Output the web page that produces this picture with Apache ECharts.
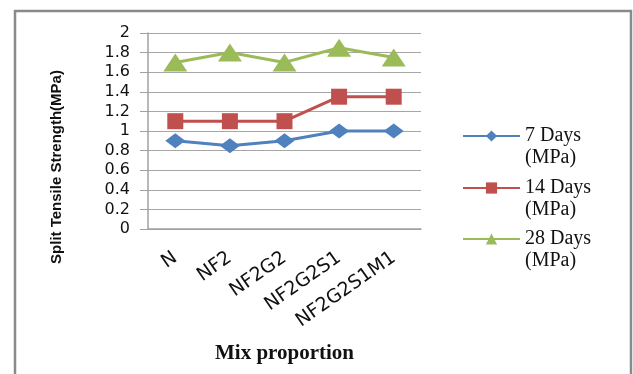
<!DOCTYPE html>
<html>
<head>
<meta charset="utf-8">
<script src="https://cdn.jsdelivr.net/npm/echarts@6/dist/echarts.min.js"></script>
<style>html,body{margin:0;padding:0;background:#fff;}#c{width:633px;height:374px;}</style>
</head>
<body>
<div id="c"></div>
<script>
var categories = ['N', 'NF2', 'NF2G2', 'NF2G2S1', 'NF2G2S1M1'];
var days7 = [0.9, 0.85, 0.9, 1.0, 1.0];
var days14 = [1.1, 1.1, 1.1, 1.35, 1.35];
var days28 = [1.7, 1.8, 1.7, 1.85, 1.75];
var seriesNames = ['7 Days (MPa)', '14 Days (MPa)', '28 Days (MPa)'];
var yTicks = { min: 0, max: 2, interval: 0.2 };

var chart = echarts.init(document.getElementById('c'), null, { renderer: 'canvas' });

function legendFor(name, top) {
  return {
    data: [name],
    left: 462,
    top: top,
    orient: 'vertical',
    padding: 0,
    itemWidth: 57,
    itemHeight: 14,
    itemGap: 0,
    selectedMode: false,
    formatter: function (n) { return ' \n' + n.replace(' (', '\n('); },
    textStyle: {
      fontFamily: 'Liberation Serif',
      fontSize: 20,
      color: '#111',
      lineHeight: 22
    }
  };
}

chart.setOption({
  backgroundColor: '#fff',
  animation: false,
  graphic: [{
    type: 'rect',
    shape: { x: 15, y: 11, width: 616, height: 400 },
    style: { fill: 'none', stroke: '#8a8a8a', lineWidth: 2.5 },
    silent: true
  }],
  grid: { left: 148, top: 33, width: 273, height: 196 },
  legend: [
    legendFor(seriesNames[0], 103),
    legendFor(seriesNames[1], 155),
    legendFor(seriesNames[2], 206)
  ],
  xAxis: {
    type: 'category',
    data: categories,
    boundaryGap: true,
    name: 'Mix proportion',
    nameLocation: 'middle',
    nameGap: 114,
    nameTextStyle: { fontFamily: 'Liberation Serif', fontWeight: 'bold', fontSize: 21, color: '#111' },
    axisLine: { lineStyle: { color: '#a0a0a0', width: 1.5 } },
    axisTick: { show: false },
    axisLabel: {
      rotate: 35,
      margin: 27,
      fontFamily: 'DejaVu Sans',
      fontSize: 19,
      color: '#111'
    }
  },
  yAxis: {
    type: 'value',
    min: yTicks.min,
    max: yTicks.max,
    interval: yTicks.interval,
    name: 'Split Tensile Strength(MPa)',
    nameLocation: 'middle',
    nameGap: 84,
    nameTextStyle: {
      fontFamily: 'Liberation Sans',
      fontWeight: 'bold',
      fontSize: 15,
      color: '#111',
      padding: [0, 72, 0, 0]
    },
    axisLine: { show: true, lineStyle: { color: '#a0a0a0', width: 1.5 } },
    axisTick: { show: true, inside: false, length: 8, lineStyle: { color: '#a0a0a0' } },
    splitLine: { lineStyle: { color: '#a6a6a6', width: 1 } },
    axisLabel: {
      margin: 18,
      fontFamily: 'DejaVu Sans',
      fontSize: 16,
      color: '#111'
    }
  },
  series: [
    {
      name: seriesNames[0], type: 'line', data: days7,
      symbol: 'diamond', symbolSize: [20, 15],
      lineStyle: { width: 3, color: '#4F81BD' },
      itemStyle: { color: '#4F81BD' }
    },
    {
      name: seriesNames[1], type: 'line', data: days14,
      symbol: 'rect', symbolSize: [16, 16],
      lineStyle: { width: 3, color: '#C0504D' },
      itemStyle: { color: '#C0504D' }
    },
    {
      name: seriesNames[2], type: 'line', data: days28,
      symbol: 'triangle', symbolSize: [24, 18],
      lineStyle: { width: 3, color: '#9BBB59' },
      itemStyle: { color: '#9BBB59' }
    }
  ]
});
</script>
</body>
</html>
